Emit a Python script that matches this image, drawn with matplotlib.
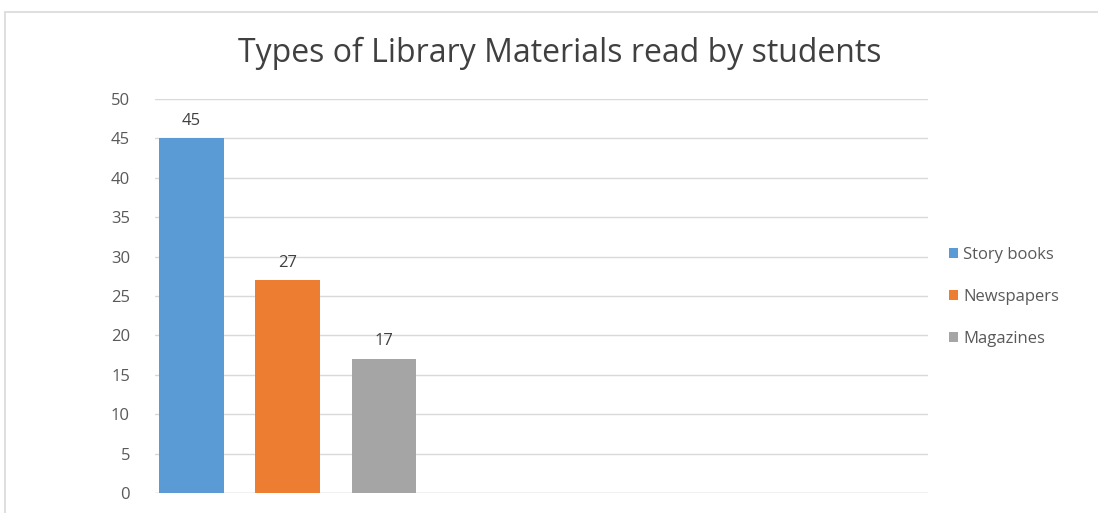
import matplotlib.pyplot as plt
from matplotlib.patches import Rectangle

# data
categories = ["Story books", "Newspapers", "Magazines"]
values = [45, 27, 17]
colors = ["#5b9bd5", "#ed7d31", "#a5a5a5"]
yticks = [0, 5, 10, 15, 20, 25, 30, 35, 40, 45, 50]

plt.rcParams['font.family'] = ['Open Sans', 'DejaVu Sans']

fig = plt.figure(figsize=(10.98, 5.13), dpi=100)
fig.patch.set_facecolor("white")

# light frame around the chart
fig.patches.append(Rectangle((5 / 1098, -0.05), 1.2, (513 - 12) / 513 + 0.05,
                             transform=fig.transFigure, fill=False,
                             edgecolor="#d9d9d9", linewidth=1.2))

ax = fig.add_axes([155 / 1098, 20 / 513, (928 - 155) / 1098, (493 - 99) / 513])

xs = range(len(categories))
bars = ax.bar(xs, values, width=0.667, color=colors, label=categories, zorder=3)

for x, v in zip(xs, values):
    ax.annotate(str(v), (x, v), xytext=(0, 7), textcoords="offset points",
                ha="center", va="bottom", fontsize=12, color="#404040")

ax.set_ylim(0, 50)
ax.set_xlim(-0.38, 7.67)
ax.set_yticks(yticks)
ax.set_xticks([])
ax.tick_params(axis="y", length=0, labelsize=12, labelcolor="#595959", pad=18)
ax.grid(axis="y", color="#d9d9d9", linewidth=1, zorder=0)
for s in ax.spines.values():
    s.set_visible(False)
ax.axhline(0, color="#d9d9d9", linewidth=1, zorder=1)

fig.text(560 / 1098, 1 - 53 / 513, "Types of Library Materials read by students",
         ha="center", va="center", fontsize=23, color="#404040")

leg = ax.legend(loc="center left", bbox_to_anchor=(1.008, 0.497), frameon=False,
                fontsize=12, labelcolor="#595959", handlelength=0.55,
                handleheight=0.55, handletextpad=0.3, labelspacing=1.55)

fig.savefig("out.png", dpi=100)
